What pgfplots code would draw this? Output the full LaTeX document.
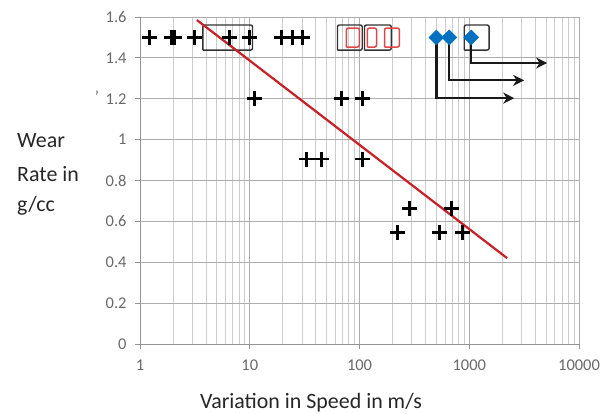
\documentclass[border=0pt]{standalone}
\usepackage{pgfplots}
\pgfplotsset{compat=1.18}
\usepackage{fontspec}
\setmainfont{Carlito}
\usetikzlibrary{arrows.meta}
\definecolor{redline}{RGB}{204,30,36}
\definecolor{blued}{RGB}{0,112,192}
\definecolor{redbox}{RGB}{225,70,70}
\definecolor{tickgray}{RGB}{105,105,105}
\begin{document}
\begin{tikzpicture}
\path[use as bounding box] (-140bp,-70bp) rectangle (470bp,344bp);
\begin{axis}[
  at={(0,0)}, anchor=south west,
  scale only axis, width=439bp, height=327bp,
  xmode=log, xmin=1, xmax=10000, ymin=0, ymax=1.6,
  xtick={1,10,100,1000,10000},
  xticklabels={1,10,100,1000,10000},
  ytick={0,0.2,0.4,0.6,0.8,1,1.2,1.4,1.6},
  yticklabels={0,0.2,0.4,0.6,0.8,1,1.2,1.4,1.6},
  grid=both,
  minor grid style={draw=black!20, line width=0.8bp},
  major grid style={draw=black!32, line width=0.9bp},
  axis lines*=left,
  axis line style={draw=black!42, line width=0.9bp},
  tick align=outside, major tick length=5bp, minor tick length=0pt,
  tick style={draw=black!42, line width=0.9bp},
  tick label style={font=\fontsize{16.5}{18}\selectfont, text=tickgray},
  yticklabel style={xshift=-5bp},
  xticklabel style={yshift=-7bp},
  clip=false,
]
% black boxes
\addplot[draw=black!80, line width=1.4bp, rounded corners=2bp] coordinates {(3.74,1.438)(10.6,1.438)(10.6,1.561)(3.74,1.561)(3.74,1.438)};
\addplot[draw=black!80, line width=1.4bp, rounded corners=2bp] coordinates {(63,1.438)(106,1.438)(106,1.561)(63,1.561)(63,1.438)};
\addplot[draw=black!80, line width=1.4bp, rounded corners=2bp] coordinates {(111,1.438)(195,1.438)(195,1.561)(111,1.561)(111,1.438)};
\addplot[draw=black!80, line width=1.4bp, rounded corners=2bp] coordinates {(901,1.438)(1517,1.438)(1517,1.561)(901,1.561)(901,1.438)};
% red boxes
\addplot[draw=redbox, line width=1.5bp, rounded corners=2bp] coordinates {(76,1.453)(100,1.453)(100,1.546)(76,1.546)(76,1.453)};
\addplot[draw=redbox, line width=1.5bp, rounded corners=2bp] coordinates {(118,1.453)(143,1.453)(143,1.546)(118,1.546)(118,1.453)};
\addplot[draw=redbox, line width=1.5bp, rounded corners=2bp] coordinates {(169,1.453)(231,1.453)(231,1.546)(169,1.546)(169,1.453)};
% plus markers
\addplot[only marks, mark=+, mark size=7.5bp, mark options={line width=2.9bp, draw=black}] coordinates {
 (1.23,1.5)(1.95,1.5)(2.08,1.5)(3.16,1.5)(6.58,1.5)(10,1.5)(19.5,1.5)(24.6,1.5)(30.4,1.5)
 (11.1,1.2)(68.5,1.2)(106,1.2)
 (32.9,0.905)(45,0.905)(106,0.905)
 (283,0.665)(686,0.665)
 (220,0.545)(533,0.545)(865,0.545)
};
% red trend line
\addplot[draw=redline, line width=2.2bp] coordinates {(3.3,1.585)(2215,0.42)};
% arrows
\addplot[draw=black!90, line width=2.2bp, -{Stealth[length=11bp,width=11bp]}] coordinates {(502,1.5)(502,1.203)(2570,1.203)};
\addplot[draw=black!90, line width=2.2bp, -{Stealth[length=11bp,width=11bp]}] coordinates {(658,1.5)(658,1.29)(3160,1.29)};
\addplot[draw=black!90, line width=2.2bp, -{Stealth[length=11bp,width=11bp]}] coordinates {(1042,1.5)(1042,1.375)(5120,1.375)};
% blue diamonds
\addplot[only marks, mark=square*, mark size=5.3bp, mark options={rotate=45, fill=blued, draw=blued}] coordinates {(502,1.5)(658,1.5)(1042,1.5)};
\end{axis}
\node[anchor=base west, inner sep=0, font=\fontsize{22}{26}\selectfont, text=black!85] at (-123bp,196bp) {Wear};
\node[anchor=base west, inner sep=0, font=\fontsize{22}{26}\selectfont, text=black!85] at (-123bp,162bp) {Rate in};
\node[anchor=base west, inner sep=0, font=\fontsize{22}{26}\selectfont, text=black!85] at (-123bp,132bp) {g/cc};
\node[anchor=base, inner sep=0, font=\fontsize{22}{26}\selectfont, text=black!85] at (171bp,-64bp) {Variation in Speed in m/s};
\node[anchor=base, inner sep=0, font=\fontsize{16.5}{18}\selectfont, text=tickgray] at (-43bp,241bp) {'};
\end{tikzpicture}
\end{document}
